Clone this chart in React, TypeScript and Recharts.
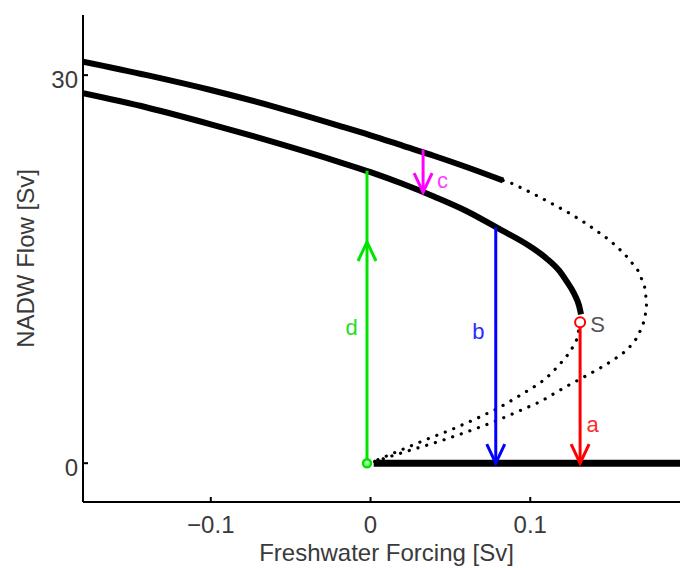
import React from 'react'
import { LineChart, Line, XAxis, YAxis, ReferenceDot } from 'recharts'

type Pt = { x: number; y: number }

const xTicks = [-0.1, 0, 0.1]
const yTicks = [0, 30]

// upper stable branch (ends where the dotted unstable part starts)
const upperOn: Pt[] = [
  { x: -0.18, y: 31.05 }, { x: -0.14, y: 30.0 }, { x: -0.1, y: 28.85 }, { x: -0.06, y: 27.55 },
  { x: -0.02, y: 26.1 }, { x: 0.0, y: 25.35 }, { x: 0.02, y: 24.55 }, { x: 0.04, y: 23.75 },
  { x: 0.06, y: 22.9 }, { x: 0.083, y: 21.85 }
]

// lower stable branch, ends at S
const lowerOn: Pt[] = [
  { x: -0.18, y: 28.6 }, { x: -0.14, y: 27.5 }, { x: -0.1, y: 26.2 }, { x: -0.06, y: 24.8 },
  { x: -0.02, y: 23.3 }, { x: 0.0, y: 22.5 }, { x: 0.02, y: 21.6 }, { x: 0.04, y: 20.6 },
  { x: 0.06, y: 19.5 }, { x: 0.08, y: 18.15 }, { x: 0.1, y: 16.75 }, { x: 0.11, y: 15.85 },
  { x: 0.118, y: 14.9 }, { x: 0.1226, y: 14.1 }, { x: 0.1275, y: 13.1 }, { x: 0.1305, y: 12.2 },
  { x: 0.1318, y: 11.5 }
]

// dotted unstable branch from the upper end round the nose back to the origin
const outerUnstable: Pt[] = [
  { x: 0.083, y: 21.85 }, { x: 0.0892, y: 21.6 }, { x: 0.0999, y: 20.95 }, { x: 0.1124, y: 20.15 },
  { x: 0.1249, y: 19.3 }, { x: 0.1354, y: 18.5 }, { x: 0.1468, y: 17.5 }, { x: 0.1542, y: 16.75 },
  { x: 0.1614, y: 15.85 }, { x: 0.1677, y: 14.85 }, { x: 0.1715, y: 13.7 }, { x: 0.1729, y: 12.4 },
  { x: 0.1717, y: 11.1 }, { x: 0.1672, y: 9.75 }, { x: 0.1606, y: 8.74 }, { x: 0.1518, y: 7.96 },
  { x: 0.1437, y: 7.35 }, { x: 0.1356, y: 6.8 }, { x: 0.1218, y: 5.88 }, { x: 0.1062, y: 4.75 },
  { x: 0.0906, y: 3.9 }, { x: 0.0767, y: 3.17 }, { x: 0.0604, y: 2.42 }, { x: 0.0435, y: 1.7 },
  { x: 0.0229, y: 0.93 }, { x: 0.0103, y: 0.44 }, { x: 0.0, y: 0.0 }
]

// dotted unstable branch from S to the origin
const innerUnstable: Pt[] = [
  { x: 0.1312, y: 10.9 }, { x: 0.1293, y: 9.6 }, { x: 0.1249, y: 8.58 }, { x: 0.1186, y: 7.66 },
  { x: 0.1124, y: 6.85 }, { x: 0.1062, y: 6.2 }, { x: 0.0917, y: 5.1 }, { x: 0.0792, y: 4.2 },
  { x: 0.0642, y: 3.33 }, { x: 0.0498, y: 2.55 }, { x: 0.0354, y: 1.86 }, { x: 0.0203, y: 1.08 },
  { x: 0.0078, y: 0.44 }, { x: 0.0, y: 0.0 }
]

// off state
const offBranch: Pt[] = [{ x: 0.002, y: 0 }, { x: 0.2, y: 0 }]

// transitions
const arrowA: Pt[] = [{ x: 0.1312, y: 10.9 }, { x: 0.1312, y: 0 }]
const arrowB: Pt[] = [{ x: 0.0784, y: 18.25 }, { x: 0.0784, y: 0 }]
const arrowC: Pt[] = [{ x: 0.0329, y: 24.25 }, { x: 0.0329, y: 20.95 }]
const arrowD: Pt[] = [{ x: -0.0022, y: 0 }, { x: -0.0022, y: 17.1 }, { x: -0.0022, y: 22.6 }]

const notes = [
  { text: 'a', x: 0.1391, y: 3.01, color: '#ff2a2a' },
  { text: 'b', x: 0.0675, y: 10.22, color: '#2a2aff' },
  { text: 'c', x: 0.0451, y: 21.88, color: '#ff3cff' },
  { text: 'd', x: -0.0118, y: 10.49, color: '#22e022' },
  { text: 'S', x: 0.1421, y: 10.69, color: '#555555' }
]

const FONT = '"Liberation Sans", Arial, Helvetica, sans-serif'
const TEXT = '#3a3a3a'
const RED = '#ff0000'
const BLUE = '#0000ff'
const MAGENTA = '#ff00ff'
const GREEN = '#00e400'

const fmt = (v: number) => (v < 0 ? '\u2212' + String(-v) : String(v))

function BottomTick({ x, y, payload }: any) {
  return (
    <g>
      <line x1={x} y1={y} x2={x} y2={y - 5} stroke="#000" strokeWidth={2} />
      <text x={x} y={y + 22} textAnchor="middle" dominantBaseline="central" fontSize={24} fontFamily={FONT} fill={TEXT}>
        {fmt(payload.value)}
      </text>
    </g>
  )
}

function TopTick({ x, y }: any) {
  return <line x1={x} y1={y} x2={x} y2={y + 5} stroke="#000" strokeWidth={2} />
}

function LeftTick({ x, y, payload }: any) {
  return (
    <g>
      <line x1={x} y1={y} x2={x + 5} y2={y} stroke="#000" strokeWidth={2} />
      <text x={x - 5} y={y + 4} textAnchor="end" dominantBaseline="central" fontSize={24} fontFamily={FONT} fill={TEXT}>
        {fmt(payload.value)}
      </text>
    </g>
  )
}

function head(cx: number, cy: number, dir: 'up' | 'down', color: string, key: any) {
  const s = dir === 'down' ? -1 : 1
  return (
    <path
      key={key}
      d={`M${cx - 9},${cy + s * 19} L${cx},${cy} L${cx + 9},${cy + s * 19}`}
      fill="none"
      stroke={color}
      strokeWidth={3}
    />
  )
}

const downHead = (color: string, withCircle = false) => (p: any) => {
  if (p.index === 1) return head(p.cx, p.cy, 'down', color, 'h' + p.index)
  if (withCircle && p.index === 0)
    return <circle key={'c' + p.index} cx={p.cx} cy={p.cy} r={5} fill="#fff" stroke={color} strokeWidth={2} />
  return <g key={'n' + p.index} />
}

const greenDot = (p: any) => {
  if (p.index === 0)
    return <circle key="c0" cx={p.cx} cy={p.cy} r={4} fill="#9dff9d" stroke={GREEN} strokeWidth={2.5} />
  if (p.index === 1) return head(p.cx, p.cy, 'up', GREEN, 'h1')
  return <g key={'n' + p.index} />
}

export default function App() {
  return (
    <div style={{ position: 'absolute', left: 0, top: 0, width: 680, height: 568, overflow: 'hidden', background: '#fff' }}>
      <LineChart width={700} height={568} margin={{ top: 15, right: 10, bottom: 0, left: 0 }}>
        <XAxis
          dataKey="x"
          type="number"
          domain={[-0.18, 0.2]}
          ticks={xTicks}
          allowDataOverflow
          height={66}
          tickSize={0}
          tickMargin={0}
          tickLine={false}
          axisLine={{ stroke: '#000', strokeWidth: 2 }}
          tick={<BottomTick />}
          label={(props: any) => {
            const vb = props.viewBox
            return (
              <text x={vb.x + vb.width / 2} y={vb.y + 50} textAnchor="middle" dominantBaseline="central" fontSize={24} fontFamily={FONT} fill={TEXT}>
                Freshwater Forcing [Sv]
              </text>
            )
          }}
        />
        <XAxis
          xAxisId="top"
          orientation="top"
          dataKey="x"
          type="number"
          domain={[-0.18, 0.2]}
          ticks={xTicks}
          allowDataOverflow
          height={0}
          tickSize={0}
          tickMargin={0}
          tickLine={false}
          axisLine={{ stroke: '#000', strokeWidth: 2 }}
          tick={<TopTick />}
        />
        <YAxis
          type="number"
          domain={[-3, 34.65]}
          ticks={yTicks}
          allowDataOverflow
          width={83}
          tickSize={0}
          tickMargin={0}
          tickLine={false}
          axisLine={{ stroke: '#000', strokeWidth: 2 }}
          tick={<LeftTick />}
          label={(props: any) => {
            const vb = props.viewBox
            const cx = 25
            const cy = vb.y + vb.height / 2
            return (
              <text x={cx} y={cy} transform={`rotate(-90 ${cx} ${cy})`} textAnchor="middle" dominantBaseline="central" fontSize={24} fontFamily={FONT} fill={TEXT}>
                NADW Flow [Sv]
              </text>
            )
          }}
        />

        <Line data={outerUnstable} dataKey="y" type="linear" stroke="#000" strokeWidth={3.2} strokeLinecap="round" strokeDasharray="0.1 9" dot={false} isAnimationActive={false} />
        <Line data={innerUnstable} dataKey="y" type="linear" stroke="#000" strokeWidth={3.2} strokeLinecap="round" strokeDasharray="0.1 9" dot={false} isAnimationActive={false} />
        <Line data={upperOn} dataKey="y" type="monotone" stroke="#000" strokeWidth={6} dot={false} isAnimationActive={false} />
        <Line data={lowerOn} dataKey="y" type="monotone" stroke="#000" strokeWidth={6} dot={false} isAnimationActive={false} />
        <Line data={offBranch} dataKey="y" type="linear" stroke="#000" strokeWidth={7} dot={false} isAnimationActive={false} />

        <Line data={arrowC} dataKey="y" type="linear" stroke={MAGENTA} strokeWidth={3} dot={downHead(MAGENTA)} isAnimationActive={false} />
        <Line data={arrowB} dataKey="y" type="linear" stroke={BLUE} strokeWidth={3} dot={downHead(BLUE)} isAnimationActive={false} />
        <Line data={arrowA} dataKey="y" type="linear" stroke={RED} strokeWidth={3} dot={downHead(RED, true)} isAnimationActive={false} />
        <Line data={arrowD} dataKey="y" type="linear" stroke={GREEN} strokeWidth={3} dot={greenDot} isAnimationActive={false} />

        {notes.map((n) => (
          <ReferenceDot
            key={n.text}
            x={n.x}
            y={n.y}
            r={0}
            shape={(p: any) => (
              <text x={p.cx} y={p.cy} textAnchor="middle" dominantBaseline="central" fontSize={22} fontFamily={FONT} fill={n.color}>
                {n.text}
              </text>
            )}
          />
        ))}
      </LineChart>
    </div>
  )
}
